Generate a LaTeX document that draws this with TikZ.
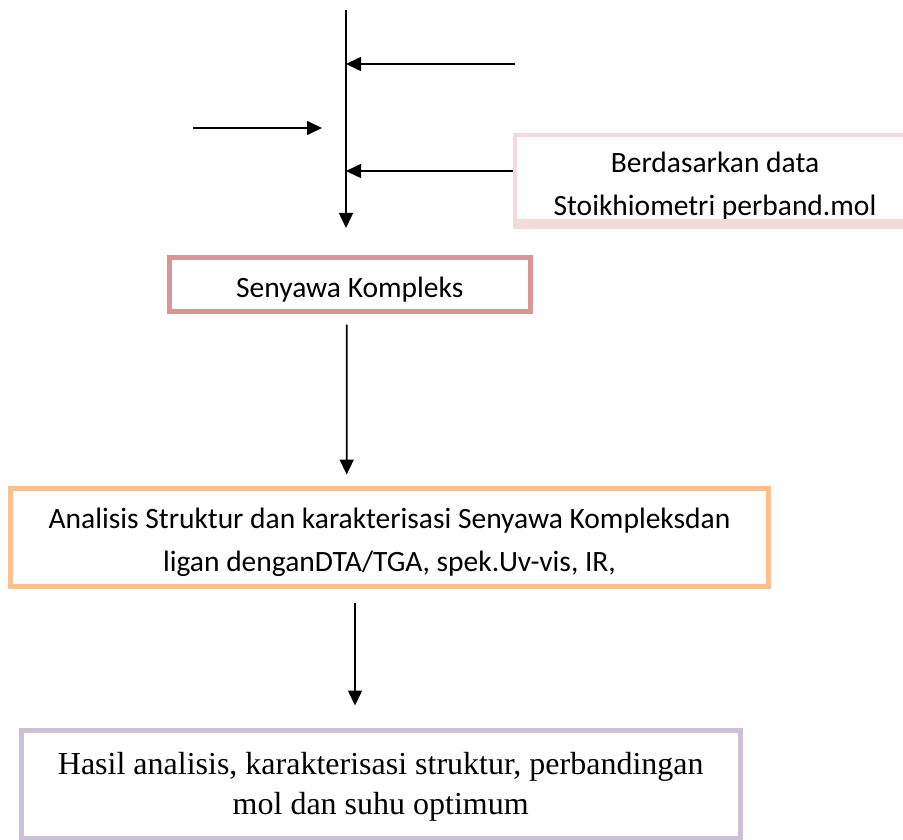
\documentclass[tikz,border=0pt]{standalone}
\usepackage{fontspec}
\setmainfont{Carlito}
\newfontfamily\seriffont{Liberation Serif}
\usetikzlibrary{arrows.meta}
\definecolor{pinklt}{HTML}{F2DBDB}
\definecolor{senc}{HTML}{D99594}
\definecolor{orangec}{HTML}{FAC090}
\definecolor{purplec}{HTML}{CCC0D9}
\tikzset{
  arr/.style={line width=1.6pt,-{Triangle[length=15pt,width=14pt]}},
  boxnode/.style={draw,line width=5pt,rectangle,inner sep=0pt,align=center},
  calfont/.style={font=\fontsize{29.5}{43}\selectfont},
  serfont/.style={font=\seriffont\fontsize{32}{40}\selectfont},
}
\begin{document}
\begin{tikzpicture}[x=1pt,y=1pt]
\clip (0,0) rectangle (903,-840);
\fill[white] (0,0) rectangle (903,-840);
% top vertical trunk
\coordinate (vtop) at (346,-10);
\coordinate (vbot) at (346,-228);
\coordinate (j1) at (346,-64);
\coordinate (j2) at (346,-171);
\coordinate (r1) at (515,-64);
\coordinate (l1) at (193,-128);
\coordinate (l2) at (322,-128);
\draw[arr] (vtop) -- (vbot);
\draw[arr] (r1) -- (j1);
\draw[arr] (l1) -- (l2);
% Berdasarkan box
\begin{scope}
  \clip (517,-137) rectangle (903,-219);
  \node[calfont,align=center,anchor=center] (bdtext) at (715,-186) {Berdasarkan data\\Stoikhiometri perband.mol};
\end{scope}
\node[draw=pinklt,line width=4pt,rectangle,minimum width=400pt,minimum height=92pt,inner sep=0pt] (bd) at (715,-181) {};
\fill[pinklt] (517,-219) rectangle (903,-225);
\draw[arr] (bd.west |- j2) -- (j2);
% Senyawa Kompleks
\node[boxnode,draw=senc,calfont,minimum width=361.5pt,minimum height=54pt] (sk) at (349.75,-284.5) {\rule{0pt}{31pt}Senyawa Kompleks};
% Analisis
\node[boxnode,draw=orangec,calfont,minimum width=758pt,minimum height=98pt] (an) at (389.5,-537.5) {\rule{0pt}{30pt}Analisis Struktur dan karakterisasi Senyawa Kompleksdan\\ligan denganDTA/TGA, spek.Uv-vis, IR,};
% Hasil
\node[boxnode,draw=purplec,serfont,minimum width=718.5pt,minimum height=108pt] (hs) at (380.75,-784.5) {\rule{0pt}{26pt}Hasil analisis, karakterisasi struktur, perbandingan\\mol dan suhu optimum};
\draw[arr] ([shift={(-3,-10.5)}]sk.south) -- ([shift={(-42.8,11.5)}]an.north);
\draw[arr] ([shift={(-34.5,-13.5)}]an.south) -- ([shift={(-25.75,22.5)}]hs.north);
\end{tikzpicture}
\end{document}
